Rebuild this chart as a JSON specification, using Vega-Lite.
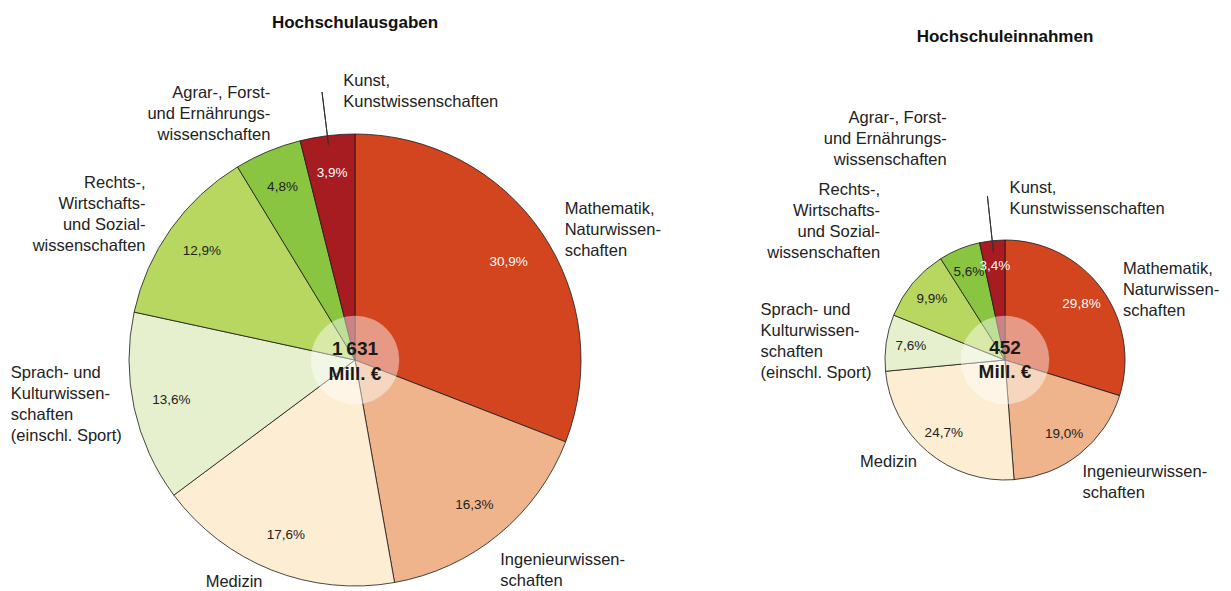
{
  "$schema": "https://vega.github.io/schema/vega-lite/v6.json",
  "background": "white",
  "padding": {"top": 14, "left": 0, "right": 0, "bottom": 0},
  "bounds": "flush",
  "spacing": 69,
  "config": {
    "view": {"stroke": null},
    "font": "'Liberation Sans', Arial, sans-serif",
    "locale": {"number": {"decimal": ",", "thousands": "\u2009", "grouping": [3], "currency": ["", "\u00a0€"]}},
    "title": {"fontSize": 17, "fontWeight": "bold", "color": "#111111", "anchor": "middle"}
  },
  "datasets": {
    "ausgaben": [
      {"kurz": "Mathematik", "reihenfolge": 1, "anteil": 0.309, "label": "Mathematik,\nNaturwissen-\nschaften"},
      {"kurz": "Ingenieur", "reihenfolge": 2, "anteil": 0.163, "label": "Ingenieurwissen-\nschaften"},
      {"kurz": "Medizin", "reihenfolge": 3, "anteil": 0.176, "label": "Medizin"},
      {"kurz": "Sprach", "reihenfolge": 4, "anteil": 0.136, "label": "Sprach- und\nKulturwissen-\nschaften\n(einschl. Sport)"},
      {"kurz": "Rechts", "reihenfolge": 5, "anteil": 0.129, "label": "Rechts-,\nWirtschafts-\nund Sozial-\nwissenschaften"},
      {"kurz": "Agrar", "reihenfolge": 6, "anteil": 0.048, "label": "Agrar-, Forst-\nund Ernährungs-\nwissenschaften"},
      {"kurz": "Kunst", "reihenfolge": 7, "anteil": 0.039, "label": "Kunst,\nKunstwissenschaften"}
    ],
    "einnahmen": [
      {"kurz": "Mathematik", "reihenfolge": 1, "anteil": 0.298, "label": "Mathematik,\nNaturwissen-\nschaften"},
      {"kurz": "Ingenieur", "reihenfolge": 2, "anteil": 0.190, "label": "Ingenieurwissen-\nschaften"},
      {"kurz": "Medizin", "reihenfolge": 3, "anteil": 0.247, "label": "Medizin"},
      {"kurz": "Sprach", "reihenfolge": 4, "anteil": 0.076, "label": "Sprach- und\nKulturwissen-\nschaften\n(einschl. Sport)"},
      {"kurz": "Rechts", "reihenfolge": 5, "anteil": 0.099, "label": "Rechts-,\nWirtschafts-\nund Sozial-\nwissenschaften"},
      {"kurz": "Agrar", "reihenfolge": 6, "anteil": 0.056, "label": "Agrar-, Forst-\nund Ernährungs-\nwissenschaften"},
      {"kurz": "Kunst", "reihenfolge": 7, "anteil": 0.034, "label": "Kunst,\nKunstwissenschaften"}
    ],
    "summe_ausgaben": [{"summe": 1631, "einheit": "Mill. €"}],
    "summe_einnahmen": [{"summe": 452, "einheit": "Mill. €"}]
  },
  "hconcat": [
    {
      "width": 710,
      "height": 460,
      "title": {"text": "Hochschulausgaben", "offset": 41},
      "data": {"name": "ausgaben"},
      "transform": [
        {"stack": "anteil", "groupby": [], "sort": [{"field": "reihenfolge", "order": "ascending"}], "as": ["a0", "a1"]},
        {"calculate": "(datum.a0 + datum.a1) / 2", "as": "amid"}
      ],
      "layer": [
        {
          "mark": {"type": "arc", "outerRadius": 226, "stroke": "#1a1a1a", "strokeWidth": 0.8},
          "encoding": {
            "theta": {"field": "a0", "type": "quantitative", "stack": null, "scale": {"domain": [0, 1]}},
            "theta2": {"field": "a1"},
            "color": {"field": "kurz", "type": "nominal", "legend": null,
              "scale": {"domain": ["Mathematik", "Ingenieur", "Medizin", "Sprach", "Rechts", "Agrar", "Kunst"],
                        "range": ["#D2451F", "#EFB48B", "#FDEDD2", "#E6F0CE", "#B8D761", "#89C541", "#A61C21"]}}
          }
        },
        {
          "mark": {"type": "arc", "outerRadius": 270, "innerRadius": 217, "stroke": "#333333", "strokeWidth": 1, "fill": null},
          "transform": [{"filter": "datum.kurz === 'Kunst'"}],
          "encoding": {
            "theta": {"field": "amid", "type": "quantitative", "stack": null, "scale": {"domain": [0, 1]}},
            "theta2": {"field": "amid"}
          }
        },
        {
          "data": {"name": "summe_ausgaben"},
          "mark": {"type": "point", "shape": "circle", "size": 7850, "filled": true, "fill": "white", "opacity": 0.45, "strokeWidth": 0},
          "encoding": {}
        },
        {
          "data": {"name": "summe_ausgaben"},
          "mark": {"type": "text", "fontSize": 19, "fontWeight": "bold", "dy": -11, "color": "#1a1a1a"},
          "encoding": {"text": {"field": "summe", "type": "quantitative", "format": ","}}
        },
        {
          "data": {"name": "summe_ausgaben"},
          "mark": {"type": "text", "fontSize": 19, "fontWeight": "bold", "dy": 14, "color": "#1a1a1a"},
          "encoding": {"text": {"field": "einheit", "type": "nominal"}}
        },
        {
          "transform": [{"filter": "datum.kurz !== 'Mathematik'"}],
          "mark": {"type": "text", "radius": 188, "fontSize": 13.5},
          "encoding": {
            "theta": {"field": "amid", "type": "quantitative", "stack": null, "scale": {"domain": [0, 1]}},
            "text": {"field": "anteil", "type": "quantitative", "format": ".1%"},
            "color": {"condition": {"test": "datum.kurz === 'Kunst'", "value": "#ffffff"}, "value": "#222222"}
          }
        },
        {
          "transform": [{"filter": "datum.kurz === 'Mathematik'"}],
          "mark": {"type": "text", "radius": 180, "dx": 5, "dy": 4, "fontSize": 13.5, "color": "#ffffff"},
          "encoding": {
            "theta": {"field": "amid", "type": "quantitative", "stack": null, "scale": {"domain": [0, 1]}},
            "text": {"field": "anteil", "type": "quantitative", "format": ".1%"}
          }
        },
        {
          "transform": [{"filter": "datum.kurz === 'Mathematik'"}],
          "mark": {"type": "text", "radius": 248, "align": "left", "baseline": "middle", "dx": 5, "dy": -11, "fontSize": 16.5, "lineHeight": 21, "lineBreak": "\n", "color": "#222222"},
          "encoding": {"theta": {"field": "amid", "type": "quantitative", "stack": null, "scale": {"domain": [0, 1]}}, "text": {"field": "label", "type": "nominal"}}
        },
        {
          "transform": [{"filter": "datum.kurz === 'Ingenieur'"}],
          "mark": {"type": "text", "radius": 254, "align": "left", "baseline": "middle", "dx": -16, "dy": 4, "fontSize": 16.5, "lineHeight": 21, "lineBreak": "\n", "color": "#222222"},
          "encoding": {"theta": {"field": "amid", "type": "quantitative", "stack": null, "scale": {"domain": [0, 1]}}, "text": {"field": "label", "type": "nominal"}}
        },
        {
          "transform": [{"filter": "datum.kurz === 'Medizin'"}],
          "mark": {"type": "text", "radius": 243, "align": "right", "baseline": "middle", "dx": -3, "dy": -4, "fontSize": 16.5, "lineHeight": 21, "lineBreak": "\n", "color": "#222222"},
          "encoding": {"theta": {"field": "amid", "type": "quantitative", "stack": null, "scale": {"domain": [0, 1]}}, "text": {"field": "label", "type": "nominal"}}
        },
        {
          "transform": [{"filter": "datum.kurz === 'Sprach'"}],
          "mark": {"type": "text", "radius": 346, "align": "left", "baseline": "middle", "dx": -6, "dy": -60, "fontSize": 16.5, "lineHeight": 21, "lineBreak": "\n", "color": "#222222"},
          "encoding": {"theta": {"field": "amid", "type": "quantitative", "stack": null, "scale": {"domain": [0, 1]}}, "text": {"field": "label", "type": "nominal"}}
        },
        {
          "transform": [{"filter": "datum.kurz === 'Rechts'"}],
          "mark": {"type": "text", "radius": 256, "align": "right", "baseline": "middle", "dx": -1, "dy": -28, "fontSize": 16.5, "lineHeight": 21, "lineBreak": "\n", "color": "#222222"},
          "encoding": {"theta": {"field": "amid", "type": "quantitative", "stack": null, "scale": {"domain": [0, 1]}}, "text": {"field": "label", "type": "nominal"}}
        },
        {
          "transform": [{"filter": "datum.kurz === 'Agrar'"}],
          "mark": {"type": "text", "radius": 261, "align": "right", "baseline": "middle", "dx": 16, "dy": -26, "fontSize": 16.5, "lineHeight": 21, "lineBreak": "\n", "color": "#222222"},
          "encoding": {"theta": {"field": "amid", "type": "quantitative", "stack": null, "scale": {"domain": [0, 1]}}, "text": {"field": "label", "type": "nominal"}}
        },
        {
          "transform": [{"filter": "datum.kurz === 'Kunst'"}],
          "mark": {"type": "text", "radius": 268, "align": "left", "baseline": "middle", "dx": 21, "dy": -13, "fontSize": 16.5, "lineHeight": 21, "lineBreak": "\n", "color": "#222222"},
          "encoding": {"theta": {"field": "amid", "type": "quantitative", "stack": null, "scale": {"domain": [0, 1]}}, "text": {"field": "label", "type": "nominal"}}
        }
      ]
    },
    {
      "width": 452,
      "height": 460,
      "title": {"text": "Hochschuleinnahmen", "offset": 64},
      "data": {"name": "einnahmen"},
      "transform": [
        {"stack": "anteil", "groupby": [], "sort": [{"field": "reihenfolge", "order": "ascending"}], "as": ["a0", "a1"]},
        {"calculate": "(datum.a0 + datum.a1) / 2", "as": "amid"}
      ],
      "layer": [
        {
          "mark": {"type": "arc", "outerRadius": 120, "stroke": "#1a1a1a", "strokeWidth": 0.8},
          "encoding": {
            "theta": {"field": "a0", "type": "quantitative", "stack": null, "scale": {"domain": [0, 1]}},
            "theta2": {"field": "a1"},
            "color": {"field": "kurz", "type": "nominal", "legend": null,
              "scale": {"domain": ["Mathematik", "Ingenieur", "Medizin", "Sprach", "Rechts", "Agrar", "Kunst"],
                        "range": ["#D2451F", "#EFB48B", "#FDEDD2", "#E6F0CE", "#B8D761", "#89C541", "#A61C21"]}}
          }
        },
        {
          "mark": {"type": "arc", "outerRadius": 165, "innerRadius": 108, "stroke": "#333333", "strokeWidth": 1, "fill": null},
          "transform": [{"filter": "datum.kurz === 'Kunst'"}],
          "encoding": {
            "theta": {"field": "amid", "type": "quantitative", "stack": null, "scale": {"domain": [0, 1]}},
            "theta2": {"field": "amid"}
          }
        },
        {
          "data": {"name": "summe_einnahmen"},
          "mark": {"type": "point", "shape": "circle", "size": 7850, "filled": true, "fill": "white", "opacity": 0.45, "strokeWidth": 0},
          "encoding": {}
        },
        {
          "data": {"name": "summe_einnahmen"},
          "mark": {"type": "text", "fontSize": 19, "fontWeight": "bold", "dy": -12, "color": "#1a1a1a"},
          "encoding": {"text": {"field": "summe", "type": "quantitative", "format": ","}}
        },
        {
          "data": {"name": "summe_einnahmen"},
          "mark": {"type": "text", "fontSize": 19, "fontWeight": "bold", "dy": 12, "color": "#1a1a1a"},
          "encoding": {"text": {"field": "einheit", "type": "nominal"}}
        },
        {
          "mark": {"type": "text", "radius": 95, "fontSize": 13.5},
          "encoding": {
            "theta": {"field": "amid", "type": "quantitative", "stack": null, "scale": {"domain": [0, 1]}},
            "text": {"field": "anteil", "type": "quantitative", "format": ".1%"},
            "color": {"condition": {"test": "datum.kurz === 'Mathematik' || datum.kurz === 'Kunst'", "value": "#ffffff"}, "value": "#222222"}
          }
        },
        {
          "transform": [{"filter": "datum.kurz === 'Mathematik'"}],
          "mark": {"type": "text", "radius": 139, "align": "left", "baseline": "middle", "dx": 6, "dy": -9, "fontSize": 16.5, "lineHeight": 21, "lineBreak": "\n", "color": "#222222"},
          "encoding": {"theta": {"field": "amid", "type": "quantitative", "stack": null, "scale": {"domain": [0, 1]}}, "text": {"field": "label", "type": "nominal"}}
        },
        {
          "transform": [{"filter": "datum.kurz === 'Ingenieur'"}],
          "mark": {"type": "text", "radius": 142, "align": "left", "baseline": "middle", "dx": -11, "dy": 1, "fontSize": 16.5, "lineHeight": 21, "lineBreak": "\n", "color": "#222222"},
          "encoding": {"theta": {"field": "amid", "type": "quantitative", "stack": null, "scale": {"domain": [0, 1]}}, "text": {"field": "label", "type": "nominal"}}
        },
        {
          "transform": [{"filter": "datum.kurz === 'Medizin'"}],
          "mark": {"type": "text", "radius": 132, "align": "right", "baseline": "middle", "dx": -3, "dy": 1, "fontSize": 16.5, "lineHeight": 21, "lineBreak": "\n", "color": "#222222"},
          "encoding": {"theta": {"field": "amid", "type": "quantitative", "stack": null, "scale": {"domain": [0, 1]}}, "text": {"field": "label", "type": "nominal"}}
        },
        {
          "transform": [{"filter": "datum.kurz === 'Sprach'"}],
          "mark": {"type": "text", "radius": 245, "align": "left", "baseline": "middle", "dx": -2, "dy": -15, "fontSize": 16.5, "lineHeight": 21, "lineBreak": "\n", "color": "#222222"},
          "encoding": {"theta": {"field": "amid", "type": "quantitative", "stack": null, "scale": {"domain": [0, 1]}}, "text": {"field": "label", "type": "nominal"}}
        },
        {
          "transform": [{"filter": "datum.kurz === 'Rechts'"}],
          "mark": {"type": "text", "radius": 186, "align": "right", "baseline": "middle", "dx": 18, "dy": -51, "fontSize": 16.5, "lineHeight": 21, "lineBreak": "\n", "color": "#222222"},
          "encoding": {"theta": {"field": "amid", "type": "quantitative", "stack": null, "scale": {"domain": [0, 1]}}, "text": {"field": "label", "type": "nominal"}}
        },
        {
          "transform": [{"filter": "datum.kurz === 'Agrar'"}],
          "mark": {"type": "text", "radius": 230, "align": "right", "baseline": "middle", "dx": 29, "dy": -29, "fontSize": 16.5, "lineHeight": 21, "lineBreak": "\n", "color": "#222222"},
          "encoding": {"theta": {"field": "amid", "type": "quantitative", "stack": null, "scale": {"domain": [0, 1]}}, "text": {"field": "label", "type": "nominal"}}
        },
        {
          "transform": [{"filter": "datum.kurz === 'Kunst'"}],
          "mark": {"type": "text", "radius": 163, "align": "left", "baseline": "middle", "dx": 22, "dy": -10, "fontSize": 16.5, "lineHeight": 21, "lineBreak": "\n", "color": "#222222"},
          "encoding": {"theta": {"field": "amid", "type": "quantitative", "stack": null, "scale": {"domain": [0, 1]}}, "text": {"field": "label", "type": "nominal"}}
        }
      ]
    }
  ]
}
